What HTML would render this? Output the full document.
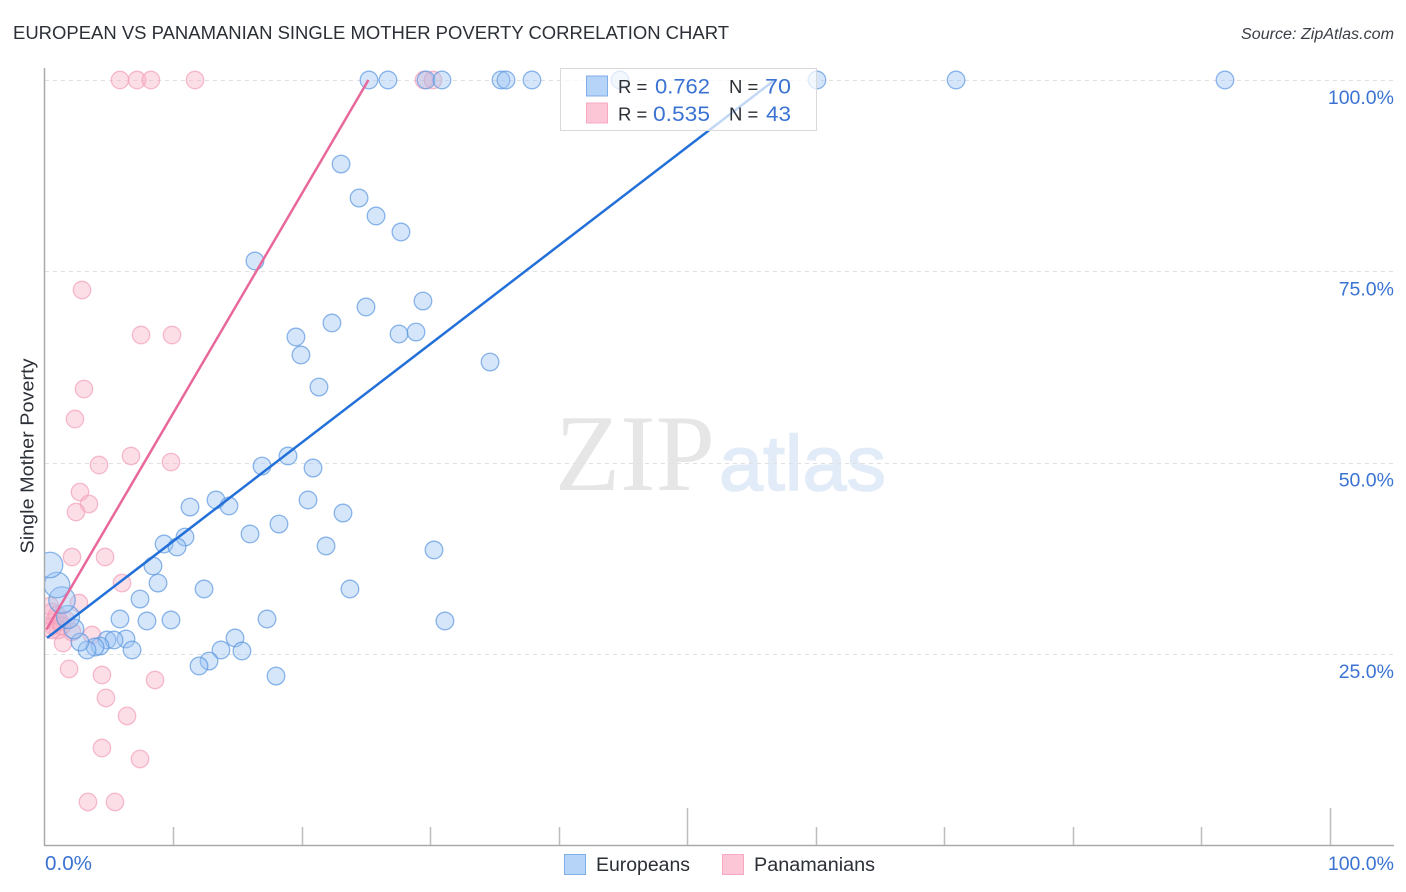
<!DOCTYPE html>
<html>
<head>
<meta charset="utf-8">
<title>European vs Panamanian Single Mother Poverty Correlation Chart</title>
<style>
html,body{margin:0;padding:0;background:#fff;width:1406px;height:892px;overflow:hidden}
svg{display:block;font-family:"Liberation Sans",sans-serif}
</style>
</head>
<body>
<svg id="chart" width="1406" height="892" viewBox="0 0 1406 892" xmlns="http://www.w3.org/2000/svg">
  <defs>
    <clipPath id="plot-clip"><rect x="45" y="60" width="1349" height="785"></rect></clipPath>
  </defs>
  <rect x="0" y="0" width="1406" height="892" fill="#ffffff"></rect>
  <text x="13" y="39" font-size="18.5" fill="#2b2f36" textLength="716" lengthAdjust="spacingAndGlyphs">EUROPEAN VS PANAMANIAN SINGLE MOTHER POVERTY CORRELATION CHART</text>
  <text x="1241" y="39" font-size="15.5" font-style="italic" fill="#3a3f47" textLength="153" lengthAdjust="spacingAndGlyphs">Source: ZipAtlas.com</text>
  <g>
    <text x="555" y="490" font-family="'Liberation Serif',serif" font-size="109" fill="#e6e6e6" textLength="160" lengthAdjust="spacingAndGlyphs">ZIP</text>
    <text x="719" y="490" font-size="78" fill="#e2ebf8" stroke="#e2ebf8" stroke-width="1.5" textLength="167" lengthAdjust="spacingAndGlyphs">atlas</text>
  </g>
  <g id="grid"></g>
  <g id="axes"></g>
  <g id="marks" clip-path="url(#plot-clip)"></g>
  <g>
    <rect x="560.5" y="68.5" width="256" height="62" fill="#ffffff" fill-opacity="0.72" stroke="#d9d9d9" stroke-width="1"></rect>
    <rect x="586.5" y="76" width="21" height="20" fill="#b6d3f8" stroke="#80aee8" stroke-width="1"></rect>
    <rect x="586.5" y="103" width="21" height="20" fill="#fcc6d6" stroke="#f6a9c0" stroke-width="1"></rect>
    <text x="618" y="93" font-size="18.5" fill="#2b2f36">R =</text>
    <text x="655" y="93.5" font-size="21" fill="#3b73d3" textLength="55" lengthAdjust="spacingAndGlyphs">0.762</text>
    <text x="729" y="93" font-size="18.5" fill="#2b2f36">N =</text>
    <text x="765" y="93.5" font-size="21" fill="#3b73d3" textLength="26" lengthAdjust="spacingAndGlyphs">70</text>
    <text x="618" y="120.5" font-size="18.5" fill="#2b2f36">R =</text>
    <text x="653" y="121" font-size="21" fill="#3b73d3" textLength="57" lengthAdjust="spacingAndGlyphs">0.535</text>
    <text x="729" y="120.5" font-size="18.5" fill="#2b2f36">N =</text>
    <text x="766" y="121" font-size="21" fill="#3b73d3" textLength="25" lengthAdjust="spacingAndGlyphs">43</text>
  </g>
  <g>
    <rect x="564.5" y="854.5" width="21" height="20" fill="#b6d3f8" stroke="#80aee8" stroke-width="1"></rect>
    <text x="596" y="871" font-size="19" fill="#2b2f36" textLength="94" lengthAdjust="spacingAndGlyphs">Europeans</text>
    <rect x="722.5" y="854.5" width="21" height="20" fill="#fcc6d6" stroke="#f6a9c0" stroke-width="1"></rect>
    <text x="754" y="871" font-size="19" fill="#2b2f36" textLength="121" lengthAdjust="spacingAndGlyphs">Panamanians</text>
  </g>
  <text transform="translate(33.5,456) rotate(-90)" font-size="18.5" fill="#2b2f36" text-anchor="middle" textLength="195" lengthAdjust="spacingAndGlyphs">Single Mother Poverty</text>
</svg>
<script>
var yTickValues = [25, 50, 75, 100];
var yTickLabels = ["25.0%", "50.0%", "75.0%", "100.0%"];
var xTickValues = [10, 20, 30, 40, 50, 60, 70, 80, 90, 100];
var xMajorTicks = [50, 100];
var xEndLabels = ["0.0%", "100.0%"];

var europeansX = [25.24,26.72,29.68,30.92,35.51,35.90,37.92,44.77,60.09,70.91,91.83,
  23.07,24.47,25.79,27.73,16.37,29.44,25.01,22.36,19.56,27.58,28.90,19.95,34.66,21.35,
  18.94,16.92,20.89,20.50,13.34,11.32,14.35,23.22,18.24,15.99,10.93,9.30,10.31,21.90,30.30,
  8.44,8.83,12.41,23.76,7.43,5.87,7.97,9.84,17.31,31.15,
  14.82,13.73,15.36,12.80,12.02,18.01,6.34,6.81,4.86,5.41,4.32,3.93,3.31,2.76,2.29,1.83,1.36,0.97,0.43];
var europeansY = [100,100,100,100,100,100,100,100,100,100,100,
  89.02,84.58,82.23,80.14,76.35,71.12,70.34,68.25,66.42,66.81,67.07,64.07,63.15,59.88,
  50.87,49.56,49.30,45.12,45.12,44.20,44.34,43.42,41.98,40.68,40.28,39.37,38.98,39.11,38.59,
  36.50,34.27,33.49,33.49,32.18,29.57,29.31,29.44,29.57,29.31,
  27.09,25.52,25.39,24.08,23.43,22.12,26.96,25.52,26.83,26.83,26.04,25.91,25.52,26.56,28.26,29.83,32.05,34.01,36.63];
var europeansWeight = [1,1,1,1,1,1,1,1,1,1,1,
  1,1,1,1,1,1,1,1,1,1,1,1,1,1,
  1,1,1,1,1,1,1,1,1,1,1,1,1,1,1,
  1,1,1,1,1,1,1,1,1,1,
  1,1,1,1,1,1,1,1,1,1,1,1,1,1,1.25,1.7,2.25,2.1,2.1];

var panamaniansX = [5.87,7.20,8.28,11.71,29.52,30.22,
  2.92,7.51,9.92,3.07,2.37,4.24,6.73,9.84,2.76,3.46,2.45,2.14,4.71,6.03,2.68,3.70,1.44,1.91,4.47,8.60,4.78,6.42,4.47,7.43,3.38,5.48,
  0.58,0.82,0.66,1.05,1.21,1.67,0.43,0.58,2.14,0.97,1.36];
var panamaniansY = [100,100,100,100,100,100,
  72.56,66.68,66.68,59.62,55.70,49.69,50.87,50.08,46.16,44.60,43.55,37.67,37.67,34.27,31.66,27.48,26.43,23.04,22.25,21.60,19.25,16.90,12.71,11.28,5.66,5.66,
  30.48,29.44,28.66,28.13,29.18,29.44,31.27,28.13,27.87,30.09,28.66];

var europeansTrendX = [0.2, 56.8];
var europeansTrendY = [27.1, 100];
var panamaniansTrendX = [0.15, 25.2];
var panamaniansTrendY = [28.2, 100];

var NS = "http://www.w3.org/2000/svg";
function xScale(v) { return 44.5 + v * 12.855; }
function yScale(v) { return 845.3 - v * 7.653; }
function make(parent, tag, attrs) {
  var el = document.createElementNS(NS, tag);
  for (var k in attrs) { el.setAttribute(k, attrs[k]); }
  parent.appendChild(el);
  return el;
}
var grid = document.getElementById("grid");
var axes = document.getElementById("axes");
var marks = document.getElementById("marks");

yTickValues.forEach(function (v, i) {
  var y = Math.round(yScale(v)) + 0.5;
  var line = make(grid, "line", {x1: 45, x2: 1394, y1: y, y2: y, stroke: "#e0e0e0", "stroke-width": 1, "stroke-dasharray": "4 4"});
  
  
  var t = make(axes, "text", {x: 1394, y: yScale(v) + 24, "font-size": 19.5, fill: "#3b73d3", "text-anchor": "end"});
  t.textContent = yTickLabels[i];
  
  
});

var yAxis = make(axes, "line", {x1: 44.5, x2: 44.5, y1: 68, y2: 846, stroke: "#a9a9a9", "stroke-width": 1.5});


var xAxis = make(axes, "line", {x1: 44, x2: 1394, y1: 845.5, y2: 845.5, stroke: "#a9a9a9", "stroke-width": 1.5});



xTickValues.forEach(function (v) {
  var x = Math.round(xScale(v)) + 0.5;
  var top = xMajorTicks.indexOf(v) >= 0 ? 808 : 827;
  var tick = make(axes, "line", {x1: x, x2: x, y1: top, y2: 845, stroke: "#bdbdbd", "stroke-width": 1.5});
  
  
});

var x0Label = make(axes, "text", {x: 45, y: 870, "font-size": 20, fill: "#3b73d3", textLength: 47, lengthAdjust: "spacingAndGlyphs"});
x0Label.textContent = xEndLabels[0];


var x1Label = make(axes, "text", {x: 1394, y: 870, "font-size": 19.5, fill: "#3b73d3", "text-anchor": "end"});
x1Label.textContent = xEndLabels[1];



panamaniansX.forEach(function (v, i) {
  var c = make(marks, "circle", {cx: xScale(v), cy: yScale(panamaniansY[i]), r: 8.7, fill: "#f9b0c6", "fill-opacity": 0.42, stroke: "#f29fb9", "stroke-opacity": 0.7, "stroke-width": 1.3});
  
  
});
europeansX.forEach(function (v, i) {
  var c = make(marks, "circle", {cx: xScale(v), cy: yScale(europeansY[i]), r: 8.8 * Math.sqrt(europeansWeight[i]), fill: "#9cc3f3", "fill-opacity": 0.42, stroke: "#5b97e0", "stroke-opacity": 0.7, "stroke-width": 1.3});
  
  
});

var pinkTrend = make(marks, "line", {x1: xScale(panamaniansTrendX[0]), y1: yScale(panamaniansTrendY[0]), x2: xScale(panamaniansTrendX[1]), y2: yScale(panamaniansTrendY[1]), stroke: "#e8689b", "stroke-width": 2.5});


var blueTrend = make(marks, "line", {x1: xScale(europeansTrendX[0]), y1: yScale(europeansTrendY[0]), x2: xScale(europeansTrendX[1]), y2: yScale(europeansTrendY[1]), stroke: "#2270d8", "stroke-width": 2.5});


</script>
</body>
</html>
